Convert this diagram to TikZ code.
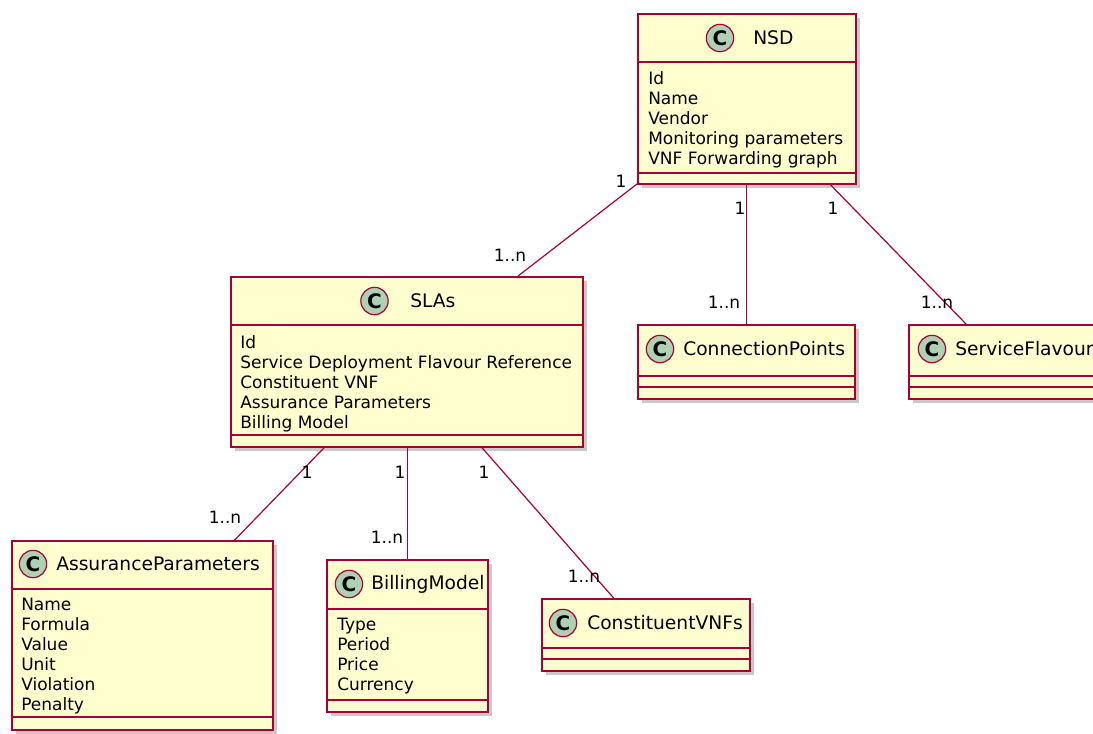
\documentclass[tikz,border=0pt]{standalone}
\usepackage{fontspec}
\setmainfont{DejaVu Sans}
\usetikzlibrary{shadows,fit}
\definecolor{umlborder}{HTML}{A80036}
\definecolor{umlfill}{HTML}{FEFECE}
\definecolor{umlcircle}{HTML}{ADD1B2}
\tikzset{
  classbox/.style={draw=umlborder, line width=1.3pt, fill=umlfill, rectangle, inner sep=0pt,
    drop shadow={shadow xshift=3pt, shadow yshift=-3pt, opacity=0.3, fill=black!70}},
  sepline/.style={draw=umlborder, line width=1.1pt},
  classicon/.style={circle, draw=umlborder, line width=0.9pt, fill=umlcircle, minimum size=20.5pt,
    inner sep=0pt, font=\fontsize{15}{17}\selectfont\bfseries},
  classname/.style={anchor=west, inner sep=0pt, font=\fontsize{14}{17}\selectfont},
  attrs/.style={anchor=north west, inner sep=0pt, align=left, font=\fontsize{12.75}{15}\selectfont},
  assoc/.style={draw=umlborder, line width=0.9pt},
  mult/.style={inner sep=0pt, font=\fontsize{12.75}{15}\selectfont},
}
\begin{document}
\begin{tikzpicture}[x=0.75pt, y=-0.75pt]
\path[use as bounding box, clip] (0,0) rectangle (1093,733);

% ---------- class boxes ----------
\node[classbox, fit={(638,14) (856,184)}] (nsd) {};
\node[classbox, fit={(231,277) (583,447)}] (slas) {};
\node[classbox, fit={(638,325) (855,399)}] (cp) {};
\node[classbox, fit={(909,325) (1097,399)}] (sf) {};
\node[classbox, fit={(12,541) (273,730)}] (ap) {};
\node[classbox, fit={(327,560) (488,712)}] (bm) {};
\node[classbox, fit={(542,599) (750,671)}] (cv) {};

% ---------- separators ----------
\draw[sepline] (638,62) -- (856,62) (638,173) -- (856,173);
\draw[sepline] (231,325) -- (583,325) (231,435) -- (583,435);
\draw[sepline] (638,376) -- (855,376) (638,387) -- (855,387);
\draw[sepline] (909,376) -- (1097,376) (909,387) -- (1097,387);
\draw[sepline] (12,589) -- (273,589) (12,717) -- (273,717);
\draw[sepline] (327,609) -- (488,609) (327,700) -- (488,700);
\draw[sepline] (542,648) -- (750,648) (542,659) -- (750,659);

% ---------- headers ----------
\node[classicon] (nsdc) at (720,38) {C};
\node[classname] (nsdn) at (753,38) {NSD};
\node[classicon] (slasc) at (374.5,301) {C};
\node[classname] (slasn) at (410,301) {SLAs};
\node[classicon] (cpc) at (660,349) {C};
\node[classname] (cpn) at (683,349) {ConnectionPoints};
\node[classicon] (sfc) at (932,349) {C};
\node[classname] (sfn) at (955,349) {ServiceFlavour};
\node[classicon] (apc) at (33,564) {C};
\node[classname] (apn) at (56,564) {AssuranceParameters};
\node[classicon] (bmc) at (349,584) {C};
\node[classname] (bmn) at (371,584) {BillingModel};
\node[classicon] (cvc) at (563,623) {C};
\node[classname] (cvn) at (587,623) {ConstituentVNFs};

% ---------- attributes ----------
\node[attrs] (nsda) at (648,71) {Id\\Name\\Vendor\\Monitoring parameters\\VNF Forwarding graph};
\node[attrs] (slasa) at (240,335) {Id\\Service Deployment Flavour Reference\\Constituent VNF\\Assurance Parameters\\Billing Model};
\node[attrs] (apa) at (21,598) {Name\\Formula\\Value\\Unit\\Violation\\Penalty};
\node[attrs] (bma) at (337,618) {Type\\Period\\Price\\Currency};

% ---------- associations ----------
\draw[assoc] (nsd) -- (slas);
\draw[assoc] (nsd.south -| cp.north) -- (cp.north);
\draw[assoc] (nsd) -- (sf);
\draw[assoc] (slas) -- (ap);
\draw[assoc] (slas.south -| bm.north) -- (bm.north);
\draw[assoc] (slas) -- (cv);

% ---------- multiplicities ----------
\node[mult] (m1) at (621,181) {1};
\node[mult] (m2) at (510,255) {1..n};
\node[mult] (m3) at (740,208) {1};
\node[mult] (m4) at (724,302) {1..n};
\node[mult] (m5) at (833,208) {1};
\node[mult] (m6) at (937,302) {1..n};
\node[mult] (m7) at (307,472) {1};
\node[mult] (m8) at (225,517) {1..n};
\node[mult] (m9) at (400,472) {1};
\node[mult] (m10) at (387,537) {1..n};
\node[mult] (m11) at (484,472) {1};
\node[mult] (m12) at (584,576) {1..n};
\end{tikzpicture}
\end{document}
